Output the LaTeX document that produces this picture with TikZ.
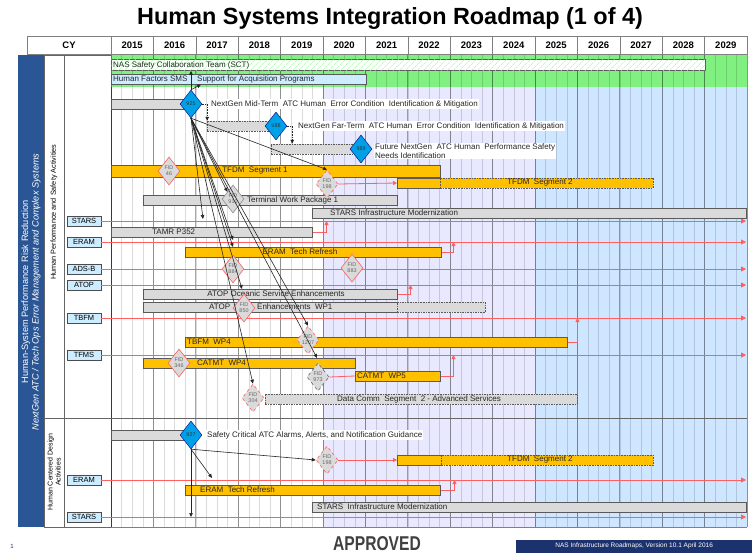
\documentclass[tikz,border=0pt]{standalone}
\usepackage{fontspec}
\usepackage{graphicx}
\setmainfont{Liberation Sans}
\usetikzlibrary{arrows.meta,patterns.meta,shapes.geometric,calc}
\definecolor{gbar}{RGB}{218,218,218}
\definecolor{obar}{RGB}{255,192,0}
\definecolor{grn}{RGB}{128,240,128}
\definecolor{lblue}{RGB}{204,236,255}
\definecolor{lav}{RGB}{232,232,255}
\definecolor{bgblue}{RGB}{206,230,255}
\definecolor{dblue}{RGB}{0,160,230}
\definecolor{band}{RGB}{42,86,150}
\definecolor{redl}{RGB}{255,95,95}
\definecolor{foot}{RGB}{28,50,110}
\newcommand\fs{\fontsize{8}{9}\selectfont}
\newcommand\fss{\fontsize{5.4}{5.8}\selectfont}
\begin{document}
\begin{tikzpicture}[x=1pt,y=-1pt,
  bar/.style={draw=black!65, line width=0.5pt, minimum height=10pt, inner sep=0pt, anchor=west},
  graybar/.style={bar, fill=gbar},
  orbar/.style={bar, fill=obar},
  dsh/.style={dash pattern=on 1.6pt off 1pt},
  txt/.style={font=\fs, inner sep=0pt, anchor=west, text=black!85},
  ctxt/.style={font=\fs, inner sep=0pt, text=black!85},
  bdia/.style={diamond, draw=blue!55!black, line width=0.4pt, fill=dblue, minimum width=22pt, minimum height=28pt, inner sep=0pt, font=\fss, text=black!80},
  fid/.style={diamond, draw=redl, line width=0.6pt, fill=gbar, minimum width=22pt, minimum height=28pt, inner sep=0pt, font=\fss, align=center, text=black!60},
  sys/.style={draw=black!70, fill=lblue, minimum width=34pt, minimum height=10pt, inner sep=0pt, font=\fontsize{7.5}{8}\selectfont},
  hdr/.style={draw=black!50, fill=white, minimum height=18pt, inner sep=0pt, font=\bfseries\fontsize{9.5}{10}\selectfont},
  redln/.style={draw=redl, line width=0.9pt, -{Triangle[length=5pt,width=5pt]}},
  redc/.style={draw=redl, line width=0.8pt, -{Triangle[length=4pt,width=4pt]}},
  blk/.style={draw=black!85, line width=0.6pt, -{Triangle[length=4pt,width=3.5pt]}},
  gridminor/.style={draw=black, draw opacity=0.14, line width=0.4pt},
  gridmajor/.style={draw=black, draw opacity=0.34, line width=0.7pt},
]
\useasboundingbox (0,0) rectangle (752,555);
\fill[white] (0,0) rectangle (752,555);
% title
\node[font=\bfseries\fontsize{23.4}{26}\selectfont] (title) at (390,18) {Human Systems Integration Roadmap (1 of 4)};
% header
\node[hdr, minimum width=84pt] (cy) at (69,45) {CY};
\foreach \i in {0,...,14} {
  \pgfmathtruncatemacro\yr{2015+\i}
  \node[hdr, minimum width=42.4pt] (y\yr) at ({132.2+\i*42.4},45) {\yr};
}
% left columns
\fill[band] (18,55) rectangle (44,527);
\draw[black!60] (44,55) rectangle (64,527);
\draw[black!60] (64,55) rectangle (111,527);
% backgrounds
\fill[grn] (111,55) rectangle (747,87);
\fill[lav] (323,87) rectangle (535,527);
\fill[bgblue] (535,87) rectangle (747,527);
\foreach \k in {0,...,60} {\draw[gridminor] ({111+\k*10.6},55) -- ({111+\k*10.6},527);}
\foreach \k in {0,...,15} {\draw[gridmajor] ({111+\k*42.4},55) -- ({111+\k*42.4},527);}
\draw[black!60, line width=0.8pt] (44,418) -- (747,418);
\draw[black!50] (111,527) -- (747,527);
% rotated labels
\node[rotate=90, text=white, align=center, font=\fontsize{9.2}{10.5}\selectfont] (bandtxt) at (31,292) {Human-System Performance Risk Reduction\\\textit{NextGen ATC / Tech Ops Error Management and Complex Systems}};
\node[rotate=90, align=center, font=\fontsize{7.3}{8}\selectfont] (hpsa) at (54,212) {Human Performance and Safety Activities};
\node[rotate=90, align=center, font=\fontsize{7}{8}\selectfont] (hcda) at (54,472) {Human Centered Design\\Activities};
% green rows
\node[bar, minimum width=594pt, minimum height=11pt, fill=white, postaction={pattern={Lines[angle=45,distance=4pt,line width=0.5pt]}, pattern color=green!40}] (sct) at (111,65) {};
\node[txt] at (113,65) {NAS Safety Collaboration Team (SCT)};
\node[bar, fill=lblue, minimum width=255pt, minimum height=10pt] (hfsms) at (111,79) {};
\node[txt] at (113,79) {Human Factors SMS};
\node[txt] at (197,79) {Support for Acquisition Programs};
% system labels and lines
\coordinate (rend) at (746,0);
\node[sys] (sSTARS) at (84,221) {STARS};
\node[sys] (sERAM) at (84,242) {ERAM};
\node[sys] (sADSB) at (84,269) {ADS-B};
\node[sys] (sATOP) at (84,285) {ATOP};
\node[sys] (sTBFM) at (84,318) {TBFM};
\node[sys] (sTFMS) at (84,355) {TFMS};
\node[sys] (sERAM2) at (84,480) {ERAM};
\node[sys] (sSTARS2) at (84,517) {STARS};
\foreach \s in {sSTARS,sERAM,sADSB,sATOP,sTBFM,sTFMS,sERAM2,sSTARS2} {\draw[redln] (\s.east) -- (\s.east -| rend);}
% 925 row
\node[graybar, minimum width=79pt] (b925) at (111,104) {};
\node[txt, fill=white, inner sep=1pt] (t925) at (210,104) {NextGen Mid-Term\ \ ATC Human\ \ Error Condition\ \ Identification \& Mitigation};
% 988
\node[graybar, dsh, minimum width=65pt] (b988) at (207,126) {};
\node[txt, fill=white, inner sep=1pt] (t988) at (297,126) {NextGen Far-Term\ \ ATC Human\ \ Error Condition\ \ Identification \& Mitigation};
% 989
\node[graybar, dsh, minimum width=84pt] (b989) at (271,149) {};
\node[txt, fill=white, inner sep=1pt, align=left] (t989) at (374,151) {Future NextGen\ \ ATC Human\ \ Performance Safety\\Needs Identification};
% TFDM seg 1
\node[orbar, minimum width=329pt, minimum height=12pt] (tfdm1) at (111,171) {};
\node[ctxt] at (255,171) {TFDM\ \ Segment 1};
\node[orbar, minimum width=43pt] (tfdm2a) at (397,183) {};
\node[orbar, dsh, minimum width=213pt] (tfdm2b) at (440,183) {};
\node[ctxt] at (540,183) {TFDM\ \ Segment 2};
% terminal work package
\node[graybar, minimum width=254pt] (twp1) at (143,200) {};
\node[txt] at (247,200) {Terminal Work Package 1};
% STARS IM
\node[graybar, minimum width=434pt] (starsim) at (312,213) {};
\node[txt] at (330,213) {STARS Infrastructure Modernization};
% TAMR
\node[graybar, minimum width=201pt] (tamr) at (111,232) {};
\node[txt] at (152,232) {TAMR P352};
\draw[redc] (tamr.east) -- ++(14,0) coordinate (k1) -- (k1 |- sSTARS.east);
% ERAM TR
\node[orbar, minimum width=256pt] (eramtr) at (185,252) {};
\node[ctxt] at (300,252) {ERAM\ \ Tech Refresh};
\draw[redc] (eramtr.east) -- ++(12,0) coordinate (k2) -- (k2 |- sERAM.east);
% ATOP OSE
\node[graybar, minimum width=254pt] (atopose) at (143,294) {};
\node[ctxt] at (276,294) {ATOP Oceanic Service Enhancements};
\draw[redc] (atopose.east) -- ++(13,0) coordinate (k3) -- (k3 |- sATOP.east);
% ATOP WP1
\node[graybar, minimum width=254pt] (atopwp1) at (143,307) {};
\node[graybar, dsh, minimum width=88pt] (atopwp1x) at (397,307) {};
\node[txt] at (209,307) {ATOP};
\node[txt] at (257,307) {Enhancements\ \ WP1};
% TBFM WP4
\node[orbar, minimum width=382pt] (tbfm4) at (185,342) {};
\node[txt] at (187,342) {TBFM\ \ WP4};
\draw[redc] (tbfm4.east) -- ++(10,0) coordinate (k4) -- (k4 |- sTBFM.east);
% CATMT
\node[orbar, minimum width=212pt] (cat4) at (143,363) {};
\node[txt] at (197,363) {CATMT\ \ WP4};
\node[orbar, minimum width=85pt] (cat5) at (355,376) {};
\node[txt] at (357,376) {CATMT\ \ WP5};
\draw[redc] (cat5.east) -- ++(13,0) coordinate (k5) -- (k5 |- sTFMS.east);
% Data comm
\node[graybar, dsh, minimum width=312pt] (dcomm) at (265,399) {};
\node[ctxt] at (419,399) {Data Comm\ \ Segment\ \ 2 - Advanced Services};
% section 2
\node[graybar, minimum width=79pt] (b927) at (111,435) {};
\node[txt, fill=white, inner sep=1pt] (t927) at (206,435) {Safety Critical ATC Alarms, Alerts, and Notification Guidance};
\node[orbar, minimum width=44pt] (t2a) at (397,460) {};
\node[orbar, dsh, minimum width=212pt] (t2b) at (441,460) {};
\node[ctxt] at (540,460) {TFDM\ \ Segment 2};
\node[orbar, minimum width=255pt] (eramtr2) at (185,490) {};
\node[txt] at (200,490) {ERAM\ \ Tech Refresh};
\draw[redc] (eramtr2.east) -- ++(14,0) coordinate (k6) -- (k6 |- sERAM2.east);
\node[graybar, minimum width=434pt] (starsim2) at (312,507) {};
\node[txt] at (317,507) {STARS\ \ Infrastructure Modernization};
% diamonds
\node[bdia] (d925) at (191,104) {925};
\node[bdia] (d988) at (276,126) {988};
\node[bdia] (d989) at (361,149) {989};
\node[bdia] (d927) at (191,435) {927};
\node[fid] (f46) at (169,171) {FID\\46};
\node[fid, dashed] (f198) at (327,184) {FID\\198};
\node[fid, draw=black!45] (f910) at (233,199) {FID\\910};
\node[fid] (f884) at (233,269) {FID\\884};
\node[fid] (f883) at (352,268) {FID\\883};
\node[fid] (f850) at (244,308) {FID\\850};
\node[fid, dashed] (f1207) at (308,340) {FID\\1207};
\node[fid] (f346) at (179,363) {FID\\346};
\node[fid, dashed, draw=black!60] (f973) at (318,377) {FID\\973};
\node[fid, dashed] (f304) at (253,398) {FID\\304};
\node[fid, dashed] (f198b) at (327,460) {FID\\198};
% red connectors from FIDs
\draw[redc] (f198.east) -- (tfdm2a.west);
\draw[redc] (f198b.east) -- (t2a.west);
\draw[draw=redl, line width=0.8pt] (f973.east) -- (cat5.west);
% black connectors from 925
\coordinate (hfa) at (201,84.5);
\draw[blk] (d925.north) -- (d925.north |- sct.south);
\draw[blk] (d925.north) -- (hfa);
\draw[blk, dsh] (d925.east) -- ++(5,0) coordinate (c1) -- (c1 |- b988.north);
\draw[blk, dsh] (d988.east) -- ++(5,0) coordinate (c2) -- (c2 |- b989.north);
\coordinate (a1) at (203,219);
\coordinate (a2) at (233,240);
\coordinate (a3) at (233,247);
\coordinate (a4) at (242,289);
\coordinate (a5) at (317,358);
\draw[blk] (d925.south) -- (f198.north);
\draw[blk] (d925.south) -- (f910.north west);
\draw[blk] (d925.south) -- (a1);
\draw[blk] (d925.south) -- (a2);
\draw[blk] (d925.south) -- (a3);
\draw[blk] (d925.south) -- (a4);
\draw[blk] (d925.south) -- (f1207.north);
\draw[blk] (d925.south) -- (a5);
\draw[blk] (d925.south) -- (f304.north);
% section 2 connectors
\coordinate (e1) at (212,478);
\draw[blk] (d927.south) -- (f198b.west);
\draw[blk] (d927.south) -- (e1);
\draw[blk] (d927.south) -- (d927.south |- sSTARS2.east);
% footer
\node[font=\fontsize{6}{7}\selectfont, text=foot] (pg) at (12,546) {1};
\node[font=\bfseries\fontsize{20}{22}\selectfont, text=black!75, inner sep=0pt] (appr) at (377,544) {\scalebox{0.78}[1]{APPROVED}};
\node[fill=foot, text=white, minimum width=236pt, minimum height=13pt, inner sep=0pt, font=\fontsize{6.5}{7.5}\selectfont, anchor=west] (ver) at (516,546) {NAS Infrastructure Roadmaps, Version 10.1 April 2016};
\end{tikzpicture}
\end{document}
